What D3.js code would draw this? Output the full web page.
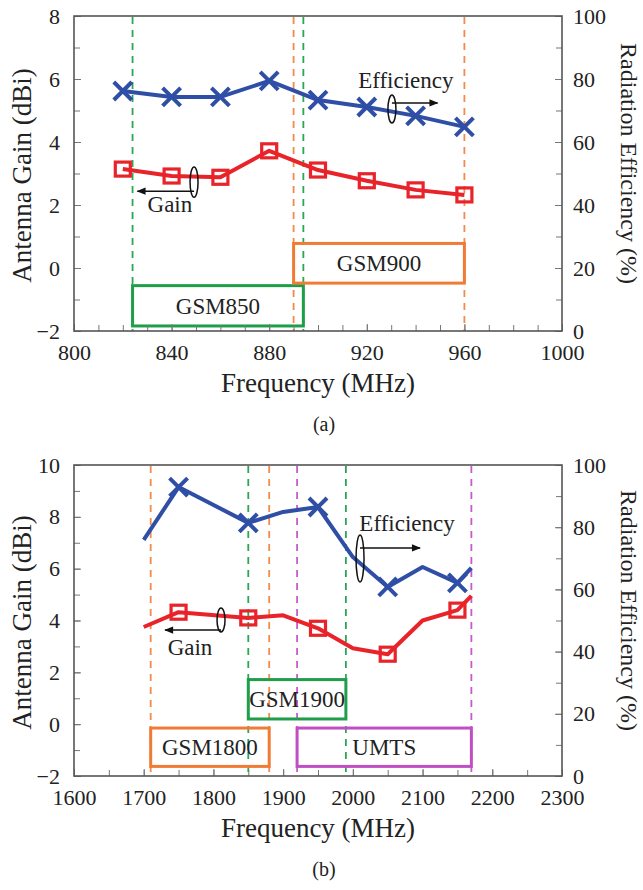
<!DOCTYPE html>
<html>
<head>
<meta charset="utf-8">
<script src="https://cdn.jsdelivr.net/npm/d3@7"></script>
<style>
  body { margin: 0; background: #fff; }
  svg { display: block; }
</style>
</head>
<body>
<svg id="chart" width="643" height="890" font-family="'Liberation Serif', 'Times New Roman', Times, 'DejaVu Serif', serif"></svg>
<script>
// ---- (a) GSM850 / GSM900 ----
var freqA = [820, 840, 860, 880, 900, 920, 940, 960];
var gainA = [3.14, 2.92, 2.88, 3.72, 3.11, 2.77, 2.48, 2.32];
var effA  = [76.2, 74.3, 74.3, 79.4, 73.3, 71.1, 68.3, 64.8];
var bandNamesA = ["GSM850", "GSM900"];
var bandLowA   = [824, 890];
var bandHighA  = [894, 960];
var xTicksA    = [800, 840, 880, 920, 960, 1000];
var gainTicksA = [-2, 0, 2, 4, 6, 8];

// ---- (b) GSM1800 / GSM1900 / UMTS ----
var freqB = [1700, 1750, 1850, 1900, 1950, 2000, 2050, 2100, 2150, 2170];
var gainB = [3.75, 4.32, 4.1, 4.2, 3.7, 2.93, 2.7, 4.0, 4.4, 4.95];
var effB  = [75.9, 92.9, 81.4, 84.9, 86.5, 70.4, 60.8, 67.2, 62.1, 66.9];
var markFreqB  = [1750, 1850, 1950, 2050, 2150];
var bandNamesB = ["GSM1800", "GSM1900", "UMTS"];
var bandLowB   = [1710, 1850, 1920];
var bandHighB  = [1880, 1990, 2170];
var xTicksB    = [1600, 1700, 1800, 1900, 2000, 2100, 2200, 2300];
var gainTicksB = [-2, 0, 2, 4, 6, 8, 10];

var effTicks = [0, 20, 40, 60, 80, 100];

var FONT = "'Liberation Serif', 'Times New Roman', Times, 'DejaVu Serif', serif";

// 颜色
var blue = "#2f4ea6", red = "#e8232a";
var bandColor = { GSM850: "#1f9e4a", GSM1900: "#1f9e4a", GSM900: "#f07b35", GSM1800: "#f07b35", UMTS: "#c04fc4" };
var dashColor = { GSM850: "#2aa655", GSM1900: "#2aa655", GSM900: "#f28a4a", GSM1800: "#f28a4a", UMTS: "#c75bcb" };

var svg = d3.select("#chart");

// 箭头
svg.append("defs").append("marker")
    .attr("id", "arrow")
    .attr("viewBox", "0 -5 10 10")
    .attr("refX", 9).attr("refY", 0)
    .attr("markerWidth", 11).attr("markerHeight", 9)
    .attr("markerUnits", "userSpaceOnUse")
    .attr("orient", "auto")
    .append("path").attr("d", "M0,-4L10,0L0,4Z").attr("fill", "#111");

function drawPanel(cfg) {
    var L = 74, R = 562, T = cfg.top, B = cfg.bottom;
    var x = d3.scaleLinear().domain(cfg.xDomain).range([L, R]);
    var y = d3.scaleLinear().domain(cfg.yDomain).range([B, T]);
    var yE = d3.scaleLinear().domain([0, 100]).range([B, T]);
    var g = svg.append("g");

    // 频段虚线
    cfg.bands.forEach(function(b) {
        [b.lo, b.hi].forEach(function(f) {
            g.append("line")
                .attr("x1", x(f)).attr("x2", x(f))
                .attr("y1", T + 1).attr("y2", B)
                .attr("stroke", dashColor[b.name])
                .attr("stroke-width", 1.8)
                .attr("stroke-dasharray", "7,6");
        });
    });

    // 频段方框
    cfg.bands.forEach(function(b) {
        g.append("rect")
            .attr("x", x(b.lo)).attr("y", y(b.boxTop))
            .attr("width", x(b.hi) - x(b.lo))
            .attr("height", y(b.boxBottom) - y(b.boxTop))
            .attr("fill", "none")
            .attr("stroke", bandColor[b.name])
            .attr("stroke-width", 3);
        g.append("text")
            .attr("x", (x(b.lo) + x(b.hi)) / 2)
            .attr("y", (y(b.boxTop) + y(b.boxBottom)) / 2)
            .attr("dy", "0.35em")
            .attr("text-anchor", "middle")
            .attr("font-size", 23).attr("fill", "#222")
            .text(b.name);
    });

    var pts = cfg.freq.map(function(f, i) { return { f: f, g: cfg.gain[i], e: cfg.eff[i] }; });
    var marked = pts.filter(function(d) { return cfg.marks.indexOf(d.f) >= 0; });

    // 曲线
    g.append("path")
        .datum(pts)
        .attr("fill", "none").attr("stroke", blue).attr("stroke-width", 4)
        .attr("stroke-linejoin", "round")
        .attr("d", d3.line().x(function(d) { return x(d.f); }).y(function(d) { return yE(d.e); }));
    g.append("path")
        .datum(pts)
        .attr("fill", "none").attr("stroke", red).attr("stroke-width", 4)
        .attr("stroke-linejoin", "round")
        .attr("d", d3.line().x(function(d) { return x(d.f); }).y(function(d) { return y(d.g); }));

    // 标记 X
    g.selectAll(".xm").data(marked).enter().append("path")
        .attr("class", "xm")
        .attr("transform", function(d) { return "translate(" + x(d.f) + "," + yE(d.e) + ")"; })
        .attr("d", "M-9,-9L9,9M-9,9L9,-9")
        .attr("stroke", blue).attr("stroke-width", 4).attr("fill", "none");
    // 标记 方块
    g.selectAll(".sq").data(marked).enter().append("rect")
        .attr("class", "sq")
        .attr("x", function(d) { return x(d.f) - 7.5; })
        .attr("y", function(d) { return y(d.g) - 7; })
        .attr("width", 15).attr("height", 14)
        .attr("fill", "none").attr("stroke", red).attr("stroke-width", 3.2);

    // 注释（Efficiency / Gain）
    cfg.notes.forEach(function(n) {
        g.append("text")
            .attr("x", x(n.tx)).attr("y", y(n.ty))
            .attr("text-anchor", "middle").attr("font-size", 23).attr("fill", "#222")
            .text(n.text);
        var ly0 = y(n.loopTop), ly1 = y(n.loopBottom);
        g.append("ellipse")
            .attr("cx", x(n.lx)).attr("cy", (ly0 + ly1) / 2)
            .attr("rx", 4).attr("ry", (ly1 - ly0) / 2)
            .attr("fill", "none").attr("stroke", "#111").attr("stroke-width", 1.5);
        g.append("line")
            .attr("x1", x(n.lx)).attr("x2", x(n.ax))
            .attr("y1", y(n.ay)).attr("y2", y(n.ay))
            .attr("stroke", "#111").attr("stroke-width", 1.5)
            .attr("marker-end", "url(#arrow)");
    });

    // 坐标轴
    g.append("g").attr("transform", "translate(0," + B + ")")
        .call(d3.axisBottom(x).tickValues(cfg.xTicks).tickSize(-7).tickPadding(13).tickFormat(d3.format("d")));
    g.append("g").attr("transform", "translate(0," + B + ")")
        .call(d3.axisBottom(x).tickValues(d3.range(cfg.xDomain[0], cfg.xDomain[1] + 1, cfg.xMinor)).tickSize(-6).tickFormat(""));
    g.append("g").attr("transform", "translate(" + L + ",0)")
        .call(d3.axisLeft(y).tickValues(cfg.yTicks).tickSize(-7).tickPadding(14).tickFormat(d3.format("d")));
    g.append("g").attr("transform", "translate(" + L + ",0)")
        .call(d3.axisLeft(y).tickValues(d3.range(cfg.yDomain[0], cfg.yDomain[1] + 1, 1)).tickSize(-6).tickFormat(""));
    g.append("g").attr("transform", "translate(" + R + ",0)")
        .call(d3.axisRight(yE).tickValues(effTicks).tickSize(-7).tickPadding(11));
    g.append("g").attr("transform", "translate(" + R + ",0)")
        .call(d3.axisRight(yE).tickValues(d3.range(0, 101, 10)).tickSize(-6).tickFormat(""));
    g.selectAll(".domain").remove();
    g.selectAll("g").attr("font-family", FONT);
    g.selectAll(".tick line").attr("stroke", "#777").attr("stroke-width", 1);
    g.selectAll(".tick text").attr("font-size", 22).attr("fill", "#222");

    g.append("rect")
        .attr("x", L).attr("y", T).attr("width", R - L).attr("height", B - T)
        .attr("fill", "none").attr("stroke", "#555").attr("stroke-width", 1.6);

    // 标题
    g.append("text")
        .attr("x", (L + R) / 2).attr("y", B + 61)
        .attr("text-anchor", "middle").attr("font-size", 27).attr("fill", "#222")
        .text("Frequency (MHz)");
    g.append("text")
        .attr("transform", "translate(31," + ((T + B) / 2 + 2) + ") rotate(-90)")
        .attr("text-anchor", "middle").attr("font-size", 27).attr("fill", "#222")
        .text("Antenna Gain (dBi)");
    g.append("text")
        .attr("transform", "translate(621," + ((T + B) / 2 - 10) + ") rotate(90)")
        .attr("text-anchor", "middle").attr("font-size", 24).attr("fill", "#222")
        .text("Radiation Efficiency (%)");
    g.append("text")
        .attr("x", 324).attr("y", B + 100)
        .attr("text-anchor", "middle").attr("font-size", 20).attr("fill", "#222")
        .text(cfg.caption);
}

drawPanel({
    top: 16, bottom: 331,
    xDomain: [800, 1000], xTicks: xTicksA, xMinor: 10,
    yDomain: [-2, 8], yTicks: gainTicksA,
    freq: freqA, gain: gainA, eff: effA, marks: freqA,
    bands: [
        { name: bandNamesA[0], lo: bandLowA[0], hi: bandHighA[0], boxTop: -0.56, boxBottom: -1.84 },
        { name: bandNamesA[1], lo: bandLowA[1], hi: bandHighA[1], boxTop: 0.78, boxBottom: -0.48 }
    ],
    notes: [
        { text: "Efficiency", tx: 936, ty: 5.71, lx: 930.3, loopTop: 5.49, loopBottom: 4.6, ay: 5.24, ax: 949 },
        { text: "Gain", tx: 839.3, ty: 1.78, lx: 849.2, loopTop: 3.21, loopBottom: 2.25, ay: 2.44, ax: 826 }
    ],
    caption: "(a)"
});

drawPanel({
    top: 465, bottom: 776,
    xDomain: [1600, 2300], xTicks: xTicksB, xMinor: 50,
    yDomain: [-2, 10], yTicks: gainTicksB,
    freq: freqB, gain: gainB, eff: effB, marks: markFreqB,
    bands: [
        { name: bandNamesB[0], lo: bandLowB[0], hi: bandHighB[0], boxTop: -0.15, boxBottom: -1.63 },
        { name: bandNamesB[1], lo: bandLowB[1], hi: bandHighB[1], boxTop: 1.72, boxBottom: 0.2 },
        { name: bandNamesB[2], lo: bandLowB[2], hi: bandHighB[2], boxTop: -0.15, boxBottom: -1.63 }
    ],
    notes: [
        { text: "Efficiency", tx: 2077.7, ty: 7.45, lx: 2010.3, loopTop: 7.3, loopBottom: 5.49, ay: 6.8, ax: 2096.4 },
        { text: "Gain", tx: 1766.4, ty: 2.67, lx: 1810.9, loopTop: 4.48, loopBottom: 3.56, ay: 3.63, ax: 1730.6 }
    ],
    caption: "(b)"
});
</script>
</body>
</html>
